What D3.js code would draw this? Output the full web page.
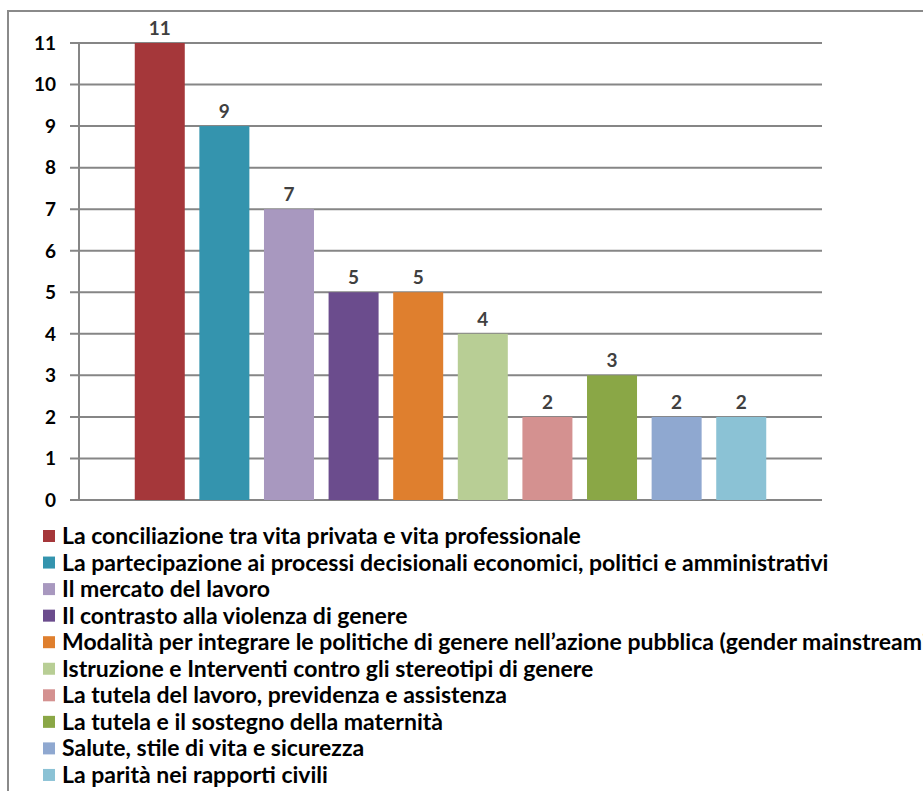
<!DOCTYPE html>
<html><head><meta charset="utf-8">
<script src="https://cdn.jsdelivr.net/npm/d3@7"></script>
<style>body{margin:0;background:#fff}</style>
</head><body>
<svg id="chart" width="923" height="791"></svg>
<script>
const categories = [
  "La conciliazione tra vita privata e vita professionale",
  "La partecipazione ai processi decisionali economici, politici e amministrativi",
  "Il mercato del lavoro",
  "Il contrasto alla violenza di genere",
  "Modalità per integrare le politiche di genere nell’azione pubblica (gender mainstreaming)",
  "Istruzione e Interventi contro gli stereotipi di genere",
  "La tutela del lavoro, previdenza e assistenza",
  "La tutela e il sostegno della maternità",
  "Salute, stile di vita e sicurezza",
  "La parità nei rapporti civili"
];
const values = [11, 9, 7, 5, 5, 4, 2, 3, 2, 2];
const colors = ["#A5373A","#3494AE","#A898BF","#6B4C8D","#DF7F2E","#B8CE95","#D49190","#8AA746","#8FA8D0","#8BC2D5"];
const yTicks = [0,1,2,3,4,5,6,7,8,9,10,11];

const svg = d3.select("#chart");
const font = "Lato, 'Open Sans', sans-serif";

// outer frame
svg.append("rect").attr("x", 8).attr("y", 11).attr("width", 1000).attr("height", 1000)
  .attr("fill", "none").attr("stroke", "#8a8a8a").attr("stroke-width", 2);

const x0 = 79, x1 = 822, yTop = 43, yBot = 500;
const y = d3.scaleLinear().domain([0, 11]).range([yBot, yTop]);
const x = d3.scaleBand().domain(categories).range([x0, x1]).paddingInner(0.226).paddingOuter(0.863);

// gridlines
svg.append("g").selectAll("line").data(yTicks).join("line")
  .attr("x1", 70).attr("x2", x1).attr("y1", d => y(d)).attr("y2", d => y(d))
  .attr("stroke", "#868686").attr("stroke-width", 2);

// y axis line
svg.append("line").attr("x1", x0).attr("x2", x0).attr("y1", yTop).attr("y2", yBot)
  .attr("stroke", "#868686").attr("stroke-width", 2);

// y tick labels
svg.append("g").selectAll("text").data(yTicks).join("text")
  .attr("x", 56).attr("y", d => y(d)).attr("dy", "0.36em")
  .attr("text-anchor", "end").attr("font-family", font).attr("font-weight", "bold")
  .attr("font-size", 19).attr("fill", "#000").text(d => d);

// bars
svg.append("g").selectAll("rect").data(values).join("rect")
  .attr("x", (d, i) => x(categories[i])).attr("width", x.bandwidth())
  .attr("y", d => y(d)).attr("height", d => yBot - y(d))
  .attr("fill", (d, i) => colors[i]);

// data labels
svg.append("g").selectAll("text").data(values).join("text")
  .attr("x", (d, i) => x(categories[i]) + x.bandwidth() / 2).attr("y", d => y(d) - 8)
  .attr("text-anchor", "middle").attr("font-family", font).attr("font-weight", "bold")
  .attr("font-size", 19).attr("fill", "#404040").text(d => d);

// legend
const leg = svg.append("g");
const rowY0 = 536, rowStep = 26.55;
leg.selectAll("rect").data(categories).join("rect")
  .attr("x", 43).attr("y", (d, i) => rowY0 + i * rowStep - 6).attr("width", 12).attr("height", 12)
  .attr("fill", (d, i) => colors[i]);
const lt = leg.selectAll("text").data(categories).join("text")
  .attr("x", 62).attr("y", (d, i) => rowY0 + i * rowStep).attr("dy", "0.35em")
  .attr("font-family", font).attr("font-weight", "bold").attr("font-size", 19)
  .attr("fill", "#000").text(d => d);
// fit font size so the second row spans like the reference
const w = lt.nodes()[1].getComputedTextLength();
const fs = 19 * 767 / w;
lt.attr("font-size", fs);
</script>
</body></html>
